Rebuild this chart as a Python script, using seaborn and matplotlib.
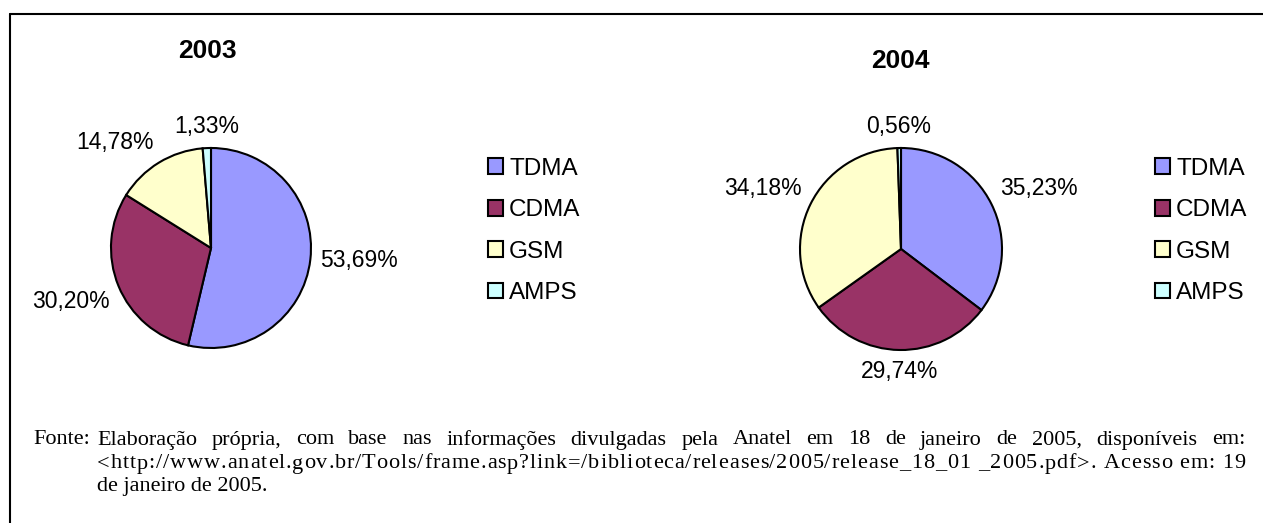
import numpy as np
import matplotlib.pyplot as plt
from matplotlib.lines import Line2D
import seaborn as sns

# data
tecnologias = ["TDMA", "CDMA", "GSM", "AMPS"]
share_2003 = [53.69, 30.20, 14.78, 1.33]
share_2004 = [35.23, 29.74, 34.18, 0.56]
anos = ["2003", "2004"]
cores = ["#9999FF", "#993366", "#FFFFCC", "#CCFFFF"]

fonte_rotulo = "Fonte:"
fonte = [
    "Elaboração própria, com base nas informações divulgadas pela Anatel em 18 de janeiro de 2005, disponíveis em:",
    "<http://www.anatel.gov.br/Tools/frame.asp?link=/biblioteca/releases/2005/release_18_01 _2005.pdf>. Acesso em: 19",
    "de janeiro de 2005.",
]

W, H = 1263, 523

sns.set_theme(style="white")
plt.rcParams['font.family'] = ['Liberation Sans', 'DejaVu Sans']
plt.rcParams['text.color'] = 'black'
palette = sns.color_palette(cores)

fig = plt.figure(figsize=(W / 100, H / 100), dpi=100)
renderer = fig.canvas.get_renderer()


def fx(x):
    return x / W


def fy(y):
    return 1 - y / H


# draw one pie with outside labels and its legend
def pie_chart(values, title, cx, cy, r, title_xy, legend_x):
    ax = fig.add_axes([fx(cx - r), fy(cy + r), 2 * r / W, 2 * r / H])
    wedges, _ = ax.pie(values, colors=palette, startangle=90, counterclock=False,
                       wedgeprops=dict(edgecolor="black", linewidth=1.5))
    ax.set_xlim(-1, 1)
    ax.set_ylim(-1, 1)
    ax.set_axis_off()
    for w, v in zip(wedges, values):
        w.set_clip_on(False)
        ang = np.deg2rad((w.theta1 + w.theta2) / 2)
        x, y = np.cos(ang), np.sin(ang)
        ha = 'left' if x > 0.3 else ('right' if x < -0.3 else 'center')
        va = 'bottom' if y > 0.3 else ('top' if y < -0.3 else 'center')
        ax.text(1.1 * x, 1.1 * y, f"{v:.2f}%".replace('.', ','),
                ha=ha, va=va, fontsize=16.5, color="black")
    fig.text(fx(title_xy[0]), fy(title_xy[1]), title, ha="center", va="center",
             fontsize=19, fontweight="bold")
    ax.legend(wedges, tecnologias, loc="center left",
              bbox_to_anchor=(fx(legend_x), fy(231)), bbox_transform=fig.transFigure,
              frameon=False, fontsize=17.5, handlelength=0.62, handleheight=0.62,
              handletextpad=0.25, labelspacing=0.8, borderpad=0, borderaxespad=0)
    return ax


pie_chart(share_2003, anos[0], 211, 248, 100, (207, 51), 488)
pie_chart(share_2004, anos[1], 901, 249, 101, (900, 61), 1155)

# source note, justified like the original document
serif = ['Liberation Serif', 'DejaVu Serif']
fs_note = 16


def text_width(s):
    t = fig.text(0, 0, s, fontsize=fs_note, family=serif)
    wd = t.get_window_extent(renderer).width
    t.remove()
    return wd


def justified(line, x0, x1, y, by_char=False):
    if by_char:
        pieces = list(line)
        widths = [text_width("x" + p + "x") - text_width("xx") for p in pieces]
        gap = 0
    else:
        pieces = line.split(" ")
        widths = [text_width(p) for p in pieces]
        gap = text_width("x x") - text_width("xx")
    extra = (x1 - x0 - sum(widths) - gap * (len(pieces) - 1)) / max(len(pieces) - 1, 1)
    extra = max(extra, 0)
    x = x0
    for p, wd in zip(pieces, widths):
        if p.strip():
            fig.text(fx(x), fy(y), p, va="center", fontsize=fs_note, family=serif)
        x += wd + gap + extra


indent = 97
fig.text(fx(33), fy(440), fonte_rotulo, va="center", fontsize=fs_note, family=serif)
justified(fonte[0], indent, 1245, 440)
justified(fonte[1], indent, 1245, 464, by_char=True)
fig.text(fx(indent), fy(487), fonte[2], va="center", fontsize=fs_note, family=serif)

# frame lines (top and left only)
fig.add_artist(Line2D([fx(10), 1], [fy(14), fy(14)], transform=fig.transFigure,
                      color="black", lw=1.5))
fig.add_artist(Line2D([fx(10), fx(10)], [0, fy(14)], transform=fig.transFigure,
                      color="black", lw=1.5))

fig.savefig("out.png", dpi=100)
